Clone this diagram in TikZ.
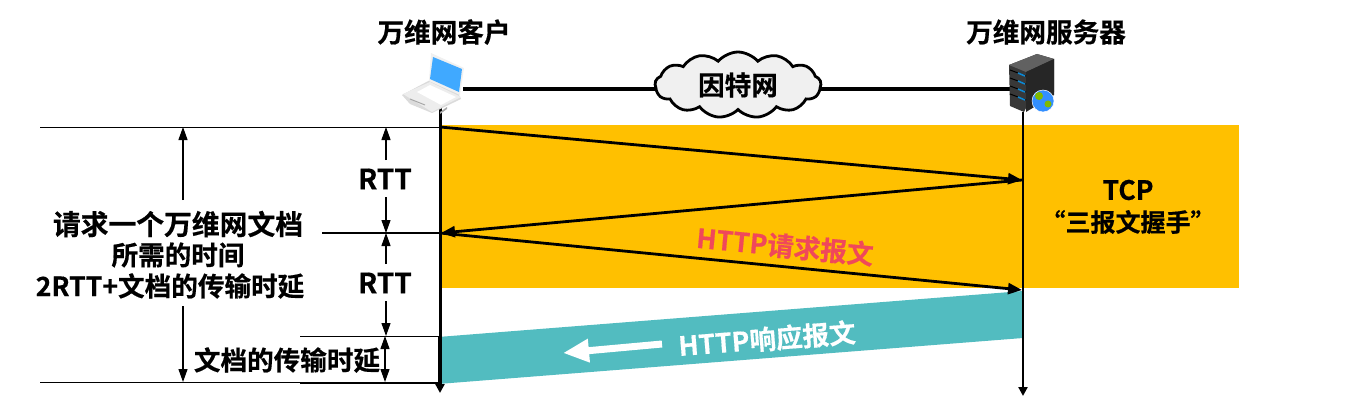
\documentclass[tikz,border=0pt]{standalone}
\usepackage{fontspec}
\setmainfont{Noto Sans CJK SC}[BoldFont={Noto Sans CJK SC Bold},BoldFeatures={FakeBold=0.5}]
\usetikzlibrary{arrows.meta,shapes.symbols}
\definecolor{orangeband}{HTML}{FFC000}
\definecolor{tealband}{HTML}{52BCC0}
\definecolor{reqred}{HTML}{F0485A}
\newcommand{\fsz}[1]{\bfseries\fontsize{#1}{#1}\selectfont}
\tikzset{
  every node/.style={font=\fsz{26.6},inner sep=0pt},
  thinline/.style={line width=1pt,black},
  lifeline/.style={line width=3pt,black,-{Triangle[width=9pt,length=9pt]}},
  msg/.style={line width=2.8pt,black,-{Triangle[width=11pt,length=14pt]}},
  dim/.style={line width=1.2pt,black,-{Triangle[width=9pt,length=13pt]}},
  netlink/.style={line width=3.2pt,black},
}
\begin{document}
\begin{tikzpicture}[x=1pt,y=-1pt]
\useasboundingbox (0,0) rectangle (1372,417);
% bands
\fill[orangeband] (439,125) rectangle (1239,288);
\fill[white] (0,288) rectangle (1239,292);
\fill[tealband] (438,337) -- (1023,291) -- (1023,338) -- (438,384) -- cycle;
% named anchors
\coordinate (cEnd) at (440,393);
\coordinate (sEnd) at (1023,396);
\coordinate (c0) at (440,127);
\coordinate (s1) at (1022,180);
\coordinate (c2) at (441,233);
\coordinate (c2b) at (440,233);
\coordinate (s3) at (1022,290);
\coordinate (l0) at (40,127);
\coordinate (l2) at (322,233);
\coordinate (c3) at (440,336);
\coordinate (l3) at (300,336);
\coordinate (c4) at (440,382);
\coordinate (l4) at (40,382);
\coordinate (l4b) at (300,383);
\coordinate (c4b) at (440,383);
\coordinate (linkC) at (463,89);
\coordinate (linkS) at (1010,89);
% lifelines
\draw[lifeline] (440,107) -- (cEnd);
\draw[lifeline,line width=2.4pt] (1023,112) -- (sEnd);
\draw[line width=4pt] (440,337) -- (440,383);
% horizontal rulers
\draw[thinline] (l0) -- (c0);
\draw[thinline,line width=1.5pt] (l2) -- (c2b);
\draw[thinline] (l3) -- (c3);
\draw[thinline] (l4) -- (c4);
\draw[line width=1.8pt] (l4b) -- (c4b);
% messages
\draw[msg] (c0) -- (s1);
\draw[msg] (s1) -- (c2);
\draw[msg] (c2b) -- (s3);
% dimension arrows
\coordinate (r1a) at (386,160); \coordinate (r1t) at (386,127);
\coordinate (r1b) at (386,197); \coordinate (r1e) at (386,233);
\coordinate (r2a) at (386,264); \coordinate (r2t) at (386,233);
\coordinate (r2b) at (386,301); \coordinate (r2e) at (386,336);
\coordinate (d1m) at (385,359); \coordinate (d1t) at (385,336); \coordinate (d1e) at (385,382);
\coordinate (ta) at (183,200); \coordinate (tt) at (183,127);
\coordinate (tb) at (183,306); \coordinate (te) at (183,382);
\draw[dim] (r1a) -- (r1t);
\draw[dim] (r1b) -- (r1e);
\draw[dim] (r2a) -- (r2t);
\draw[dim] (r2b) -- (r2e);
\draw[dim] (d1m) -- (d1t);
\draw[dim] (d1m) -- (d1e);
\draw[dim] (ta) -- (tt);
\draw[dim] (tb) -- (te);
% cloud
\draw[netlink] (linkC) -- (linkS);
\node[cloud,cloud puffs=13,cloud puff arc=100,aspect=2.6,draw=black,line width=2.8pt,fill=black!6,minimum width=166pt,minimum height=66pt] (net) at (738,85) {};
\node[font=\fsz{26.6}] (netl) at (738,85) {因特网};
% laptop icon
\begin{scope}
\fill[black!14] (402,95) -- (447,71) -- (461,99) -- (432,113) -- (410,104) -- cycle;
\fill[black!7] (403,94) -- (430,82) -- (461,97) -- (445,105) -- (432,112) -- cycle;
\fill[white] (417,92) -- (430,85) -- (456,97) -- (441,105) -- cycle;
\draw[black!35,line width=1pt] (410,99) -- (425,105);
\fill[black!6] (431,53) -- (464,68) -- (460,95) -- (429,81) -- cycle;
\fill[blue!45!cyan!75!white] (433,57) -- (462,69) -- (459,92) -- (430,79) -- cycle;
\fill[black!35] (440,112) -- (447,107) -- (447,109) -- (440,114) -- cycle;
\end{scope}
\node[minimum size=1pt] (client) at (432,84) {};
% server icon
\begin{scope}
\fill[black!78] (1009,65) -- (1037,54) -- (1054,59) -- (1054,92) -- (1035,100) -- (1035,90) -- (1024,112) -- (1010,106) -- cycle;
\fill[black!62] (1009,65) -- (1037,54) -- (1054,59) -- (1026,72) -- cycle;
\fill[black!85] (1026,72) -- (1054,59) -- (1054,95) -- (1026,112) -- cycle;
\foreach \yy in {73,81,89,97}{
  \draw[black,line width=1pt] (1010,\yy-3) -- (1026,\yy+3);
  \draw[cyan!70!blue,line width=1.6pt] (1018,\yy+0) -- (1025,\yy+3);
}
\fill[blue!55!cyan!80!white] (1043,101) circle (11pt);
\fill[green!45!black!50!yellow] (1039,96) circle (4pt);
\fill[green!45!black!50!yellow] (1048,104) circle (3.5pt);
\draw[white,line width=.5pt] (1043,101) circle (11pt);
\end{scope}
\node[minimum size=1pt] (server) at (1030,85) {};
% labels
\node (cl) at (444,32) {万维网客户};
\node (sl) at (1046,32) {万维网服务器};
\node[font=\fsz{28}] (rtt1) at (385,179) {RTT};
\node[font=\fsz{28}] (rtt2) at (385,283) {RTT};
\node[font=\fsz{27.8}] (need1) at (178,224) {请求一个万维网文档};
\node (need2) at (178,255) {所需的时间};
\node (need3) at (170,286) {2RTT+文档的传输时延};
\node (doc) at (287,360) {文档的传输时延};
\node (tcp1) at (1128,190) {TCP};
\node[font=\fsz{25}] (tcp2) at (1128,222) {“三报文握手”};
\node[text=reqred,rotate=-5.5] (req) at (785,246) {HTTP请求报文};
\node[text=white,rotate=4.5] (resp) at (767,339) {HTTP响应报文};
% white arrow
\coordinate (wa) at (662,344);
\coordinate (wb) at (563,353);
\draw[white,line width=7pt,-{Triangle[width=22pt,length=26pt]}] (wa) -- (wb);
\end{tikzpicture}
\end{document}
